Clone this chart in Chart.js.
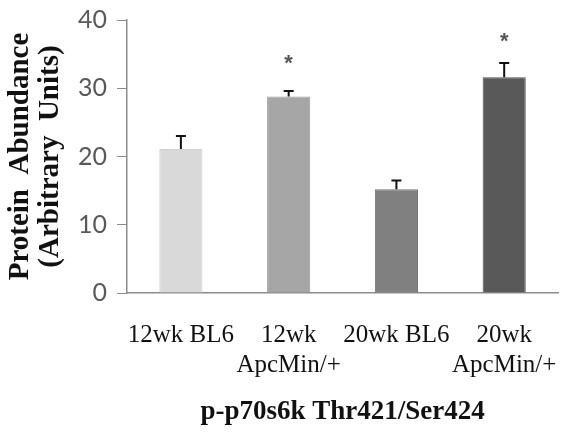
<!DOCTYPE html>
<html>
<head>
<meta charset="utf-8">
<script src="https://cdn.jsdelivr.net/npm/chart.js@4"></script>
<style>
  html, body { margin: 0; padding: 0; background: #fff; }
  #wrap { width: 576px; height: 444px; position: relative; }
</style>
</head>
<body>
<div id="wrap"><canvas id="myChart" width="576" height="444"></canvas></div>
<script>
const groups = [['12wk BL6'], ['12wk', 'ApcMin/+'], ['20wk BL6'], ['20wk', 'ApcMin/+']];
const abundance = [21.1, 28.8, 15.2, 31.6];
const sem = [1.9, 0.8, 1.3, 2.1];
const starAt = [null, 34.1, null, 37.3];   // asterisk height (axis units), null = not significant
const barColors = ['#d9d9d9', '#a6a6a6', '#808080', '#595959'];
const yTicks = [0, 10, 20, 30, 40];

// error bars + asterisks
const errorBars = {
  id: 'errorBars',
  afterDatasetsDraw(chart) {
    const { ctx, scales: { y } } = chart;
    const meta = chart.getDatasetMeta(0);
    ctx.save();
    ctx.strokeStyle = '#111';
    ctx.lineWidth = 2;
    meta.data.forEach((bar, i) => {
      const top = y.getPixelForValue(abundance[i] + sem[i]);
      const base = y.getPixelForValue(abundance[i]);
      ctx.beginPath();
      ctx.moveTo(bar.x, base);
      ctx.lineTo(bar.x, top);
      ctx.moveTo(bar.x - 5, top);
      ctx.lineTo(bar.x + 5, top);
      ctx.stroke();
      if (starAt[i] !== null) {
        ctx.fillStyle = '#555';
        ctx.font = 'bold 22px "Liberation Sans"';
        ctx.textAlign = 'center';
        ctx.textBaseline = 'middle';
        ctx.fillText('*', bar.x, y.getPixelForValue(starAt[i]) + 4);
      }
    });
    ctx.restore();
  }
};

const config = {
  type: 'bar',
  data: {
    labels: groups,
    datasets: [{
      data: abundance,
      backgroundColor: barColors,
      borderColor: ['#cfcfcf', '#9a9a9a', '#747474', '#4f4f4f'],
      borderWidth: 1,
      barPercentage: 0.4,
      categoryPercentage: 1.0
    }]
  },
  options: {
    responsive: false,
    animation: false,
    layout: { padding: { top: 20, right: 5, left: 0, bottom: 0 } },
    scales: {
      y: {
        min: 0,
        max: 40,
        afterFit(scale) {
          scale.width = 127;
          scale.paddingTop = 0;
          scale.paddingBottom = 0;
        },
        afterBuildTicks(scale) { scale.ticks = yTicks.map(v => ({ value: v })); },
        border: { color: '#8c8c8c', width: 1.5 },
        grid: { drawOnChartArea: false, drawTicks: true, tickLength: 10, color: '#8c8c8c' },
        ticks: {
          color: '#595959',
          font: { family: 'Lato', size: 25 },
          padding: 10
        },
        title: {
          display: true,
          text: ['Protein  Abundance', '(Arbitrary  Units)'],
          color: '#111',
          font: { family: 'Liberation Serif', size: 29, weight: 'bold', lineHeight: 1.05 },
          padding: { top: 5, bottom: 0 }
        }
      },
      x: {
        afterFit(scale) { scale.height = 151; },
        border: { color: '#8c8c8c', width: 1.5 },
        grid: { display: false },
        ticks: {
          color: '#111',
          font: { family: 'Liberation Serif', size: 25 },
          padding: 19,
          maxRotation: 0
        },
        title: {
          display: true,
          text: 'p-p70s6k Thr421/Ser424',
          color: '#111',
          font: { family: 'Liberation Serif', size: 27, weight: 'bold' },
          padding: { top: 0, bottom: 16 }
        }
      }
    },
    plugins: {
      legend: { display: false },
      tooltip: { enabled: false }
    }
  },
  plugins: [errorBars]
};

new Chart(document.getElementById('myChart'), config);
</script>
</body>
</html>
